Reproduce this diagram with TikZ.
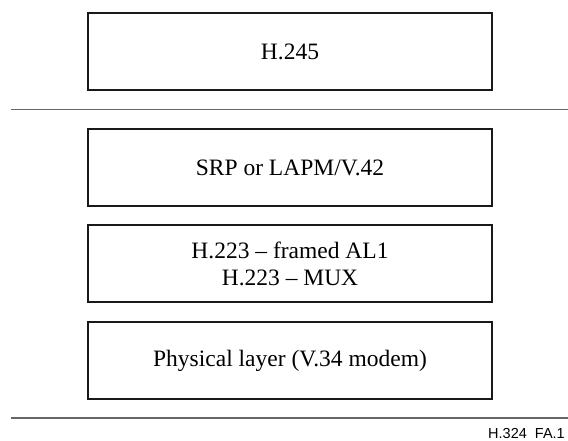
\documentclass[tikz,border=0pt]{standalone}
\usepackage{fontspec}
\setmainfont{Liberation Serif}
\newfontfamily\labelfont{Liberation Sans}
\begin{document}
\begin{tikzpicture}[x=1pt,y=-1pt,
  layerbox/.style={draw=black!90, line width=2pt, minimum width=404pt, minimum height=77pt,
    inner sep=0pt, align=center, font=\fontsize{23.5}{27.7}\selectfont},
  sepline/.style={draw=black!60, line width=1.3pt}]
\useasboundingbox (0,0) rectangle (568,441);
\node[layerbox] (h245) at (290,52) {H.245};
\node[layerbox] (srp) at (290,167.7) {SRP or LAPM/V.42};
\node[layerbox] (h223) at (290,263.8) {H.223 – framed AL1\\H.223 – MUX};
\node[layerbox] (phy) at (290,360.5) {Physical layer (V.34 modem)};
\coordinate (l1a) at (11,109.5);
\coordinate (l1b) at (568,109.5);
\coordinate (l2a) at (11,418);
\coordinate (l2b) at (568,418);
\draw[sepline] (l1a) -- (l1b);
\draw[sepline] (l2a) -- (l2b);
\node[anchor=base east, inner sep=0pt, font=\labelfont\fontsize{14.5}{16}\selectfont] (tag) at (565,438) {H.324\ \ FA.1};
\end{tikzpicture}
\end{document}
